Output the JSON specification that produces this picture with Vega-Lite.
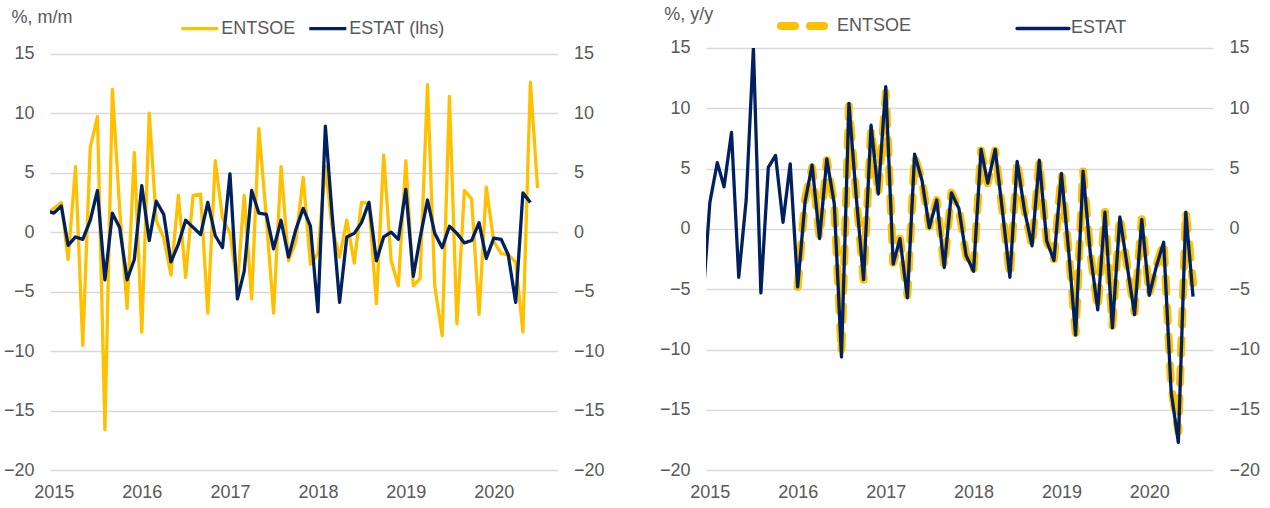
{
  "$schema": "https://vega.github.io/schema/vega-lite/v6.json",
  "padding": {"left": 3, "top": -4, "right": 5, "bottom": 5},
  "background": "white",
  "config": {
    "font": "Liberation Sans",
    "view": {"stroke": null},
    "axis": {"labelFontSize": 18, "labelColor": "#595959", "titleColor": "#595959", "titleFontSize": 18, "titleFontWeight": "normal", "gridColor": "#d9d9d9", "gridWidth": 1.3, "ticks": false, "domain": false, "labelFlush": false, "labelOverlap": false},
    "legend": {"labelFontSize": 18, "labelColor": "#595959", "padding": 0, "offset": 0}
  },
  "datasets": {
    "mm": [
      {"date": "2014-12-01", "series": "ENTSOE", "value": 1.5},
      {"date": "2015-01-01", "series": "ENTSOE", "value": 2.0},
      {"date": "2015-02-01", "series": "ENTSOE", "value": 2.5},
      {"date": "2015-03-01", "series": "ENTSOE", "value": -2.3},
      {"date": "2015-04-01", "series": "ENTSOE", "value": 5.5},
      {"date": "2015-05-01", "series": "ENTSOE", "value": -9.5},
      {"date": "2015-06-01", "series": "ENTSOE", "value": 7.1},
      {"date": "2015-07-01", "series": "ENTSOE", "value": 9.7},
      {"date": "2015-08-01", "series": "ENTSOE", "value": -16.6},
      {"date": "2015-09-01", "series": "ENTSOE", "value": 12.0},
      {"date": "2015-10-01", "series": "ENTSOE", "value": 2.0},
      {"date": "2015-11-01", "series": "ENTSOE", "value": -6.4},
      {"date": "2015-12-01", "series": "ENTSOE", "value": 6.7},
      {"date": "2016-01-01", "series": "ENTSOE", "value": -8.4},
      {"date": "2016-02-01", "series": "ENTSOE", "value": 10.0},
      {"date": "2016-03-01", "series": "ENTSOE", "value": 1.0},
      {"date": "2016-04-01", "series": "ENTSOE", "value": -0.5},
      {"date": "2016-05-01", "series": "ENTSOE", "value": -3.6},
      {"date": "2016-06-01", "series": "ENTSOE", "value": 3.1},
      {"date": "2016-07-01", "series": "ENTSOE", "value": -3.8},
      {"date": "2016-08-01", "series": "ENTSOE", "value": 3.1},
      {"date": "2016-09-01", "series": "ENTSOE", "value": 3.2},
      {"date": "2016-10-01", "series": "ENTSOE", "value": -6.8},
      {"date": "2016-11-01", "series": "ENTSOE", "value": 6.0},
      {"date": "2016-12-01", "series": "ENTSOE", "value": 1.2},
      {"date": "2017-01-01", "series": "ENTSOE", "value": -0.1},
      {"date": "2017-02-01", "series": "ENTSOE", "value": -4.5},
      {"date": "2017-03-01", "series": "ENTSOE", "value": 3.1},
      {"date": "2017-04-01", "series": "ENTSOE", "value": -5.6},
      {"date": "2017-05-01", "series": "ENTSOE", "value": 8.7},
      {"date": "2017-06-01", "series": "ENTSOE", "value": 1.2},
      {"date": "2017-07-01", "series": "ENTSOE", "value": -6.8},
      {"date": "2017-08-01", "series": "ENTSOE", "value": 5.5},
      {"date": "2017-09-01", "series": "ENTSOE", "value": -2.4},
      {"date": "2017-10-01", "series": "ENTSOE", "value": -0.8},
      {"date": "2017-11-01", "series": "ENTSOE", "value": 4.6},
      {"date": "2017-12-01", "series": "ENTSOE", "value": -2.7},
      {"date": "2018-01-01", "series": "ENTSOE", "value": -1.8},
      {"date": "2018-02-01", "series": "ENTSOE", "value": 5.5},
      {"date": "2018-03-01", "series": "ENTSOE", "value": 0.4},
      {"date": "2018-04-01", "series": "ENTSOE", "value": -2.1},
      {"date": "2018-05-01", "series": "ENTSOE", "value": 1.0},
      {"date": "2018-06-01", "series": "ENTSOE", "value": -2.6},
      {"date": "2018-07-01", "series": "ENTSOE", "value": 2.5},
      {"date": "2018-08-01", "series": "ENTSOE", "value": 2.4},
      {"date": "2018-09-01", "series": "ENTSOE", "value": -6.0},
      {"date": "2018-10-01", "series": "ENTSOE", "value": 6.5},
      {"date": "2018-11-01", "series": "ENTSOE", "value": -2.4},
      {"date": "2018-12-01", "series": "ENTSOE", "value": -4.5},
      {"date": "2019-01-01", "series": "ENTSOE", "value": 6.0},
      {"date": "2019-02-01", "series": "ENTSOE", "value": -4.5},
      {"date": "2019-03-01", "series": "ENTSOE", "value": -3.9},
      {"date": "2019-04-01", "series": "ENTSOE", "value": 12.4},
      {"date": "2019-05-01", "series": "ENTSOE", "value": -4.5},
      {"date": "2019-06-01", "series": "ENTSOE", "value": -8.7},
      {"date": "2019-07-01", "series": "ENTSOE", "value": 11.4},
      {"date": "2019-08-01", "series": "ENTSOE", "value": -7.7},
      {"date": "2019-09-01", "series": "ENTSOE", "value": 3.5},
      {"date": "2019-10-01", "series": "ENTSOE", "value": 2.8},
      {"date": "2019-11-01", "series": "ENTSOE", "value": -6.9},
      {"date": "2019-12-01", "series": "ENTSOE", "value": 3.8},
      {"date": "2020-01-01", "series": "ENTSOE", "value": -0.8},
      {"date": "2020-02-01", "series": "ENTSOE", "value": -1.8},
      {"date": "2020-03-01", "series": "ENTSOE", "value": -1.9},
      {"date": "2020-04-01", "series": "ENTSOE", "value": -2.5},
      {"date": "2020-05-01", "series": "ENTSOE", "value": -8.4},
      {"date": "2020-06-01", "series": "ENTSOE", "value": 12.6},
      {"date": "2020-07-01", "series": "ENTSOE", "value": 3.7},
      {"date": "2014-12-01", "series": "ESTAT (lhs)", "value": 1.8},
      {"date": "2015-01-01", "series": "ESTAT (lhs)", "value": 1.6},
      {"date": "2015-02-01", "series": "ESTAT (lhs)", "value": 2.2},
      {"date": "2015-03-01", "series": "ESTAT (lhs)", "value": -1.1},
      {"date": "2015-04-01", "series": "ESTAT (lhs)", "value": -0.4},
      {"date": "2015-05-01", "series": "ESTAT (lhs)", "value": -0.6},
      {"date": "2015-06-01", "series": "ESTAT (lhs)", "value": 1.0},
      {"date": "2015-07-01", "series": "ESTAT (lhs)", "value": 3.5},
      {"date": "2015-08-01", "series": "ESTAT (lhs)", "value": -4.0},
      {"date": "2015-09-01", "series": "ESTAT (lhs)", "value": 1.6},
      {"date": "2015-10-01", "series": "ESTAT (lhs)", "value": 0.4},
      {"date": "2015-11-01", "series": "ESTAT (lhs)", "value": -4.0},
      {"date": "2015-12-01", "series": "ESTAT (lhs)", "value": -2.3},
      {"date": "2016-01-01", "series": "ESTAT (lhs)", "value": 3.9},
      {"date": "2016-02-01", "series": "ESTAT (lhs)", "value": -0.7},
      {"date": "2016-03-01", "series": "ESTAT (lhs)", "value": 2.6},
      {"date": "2016-04-01", "series": "ESTAT (lhs)", "value": 1.5},
      {"date": "2016-05-01", "series": "ESTAT (lhs)", "value": -2.5},
      {"date": "2016-06-01", "series": "ESTAT (lhs)", "value": -1.0},
      {"date": "2016-07-01", "series": "ESTAT (lhs)", "value": 1.0},
      {"date": "2016-08-01", "series": "ESTAT (lhs)", "value": 0.4},
      {"date": "2016-09-01", "series": "ESTAT (lhs)", "value": -0.2},
      {"date": "2016-10-01", "series": "ESTAT (lhs)", "value": 2.5},
      {"date": "2016-11-01", "series": "ESTAT (lhs)", "value": -0.3},
      {"date": "2016-12-01", "series": "ESTAT (lhs)", "value": -1.3},
      {"date": "2017-01-01", "series": "ESTAT (lhs)", "value": 4.9},
      {"date": "2017-02-01", "series": "ESTAT (lhs)", "value": -5.6},
      {"date": "2017-03-01", "series": "ESTAT (lhs)", "value": -3.3},
      {"date": "2017-04-01", "series": "ESTAT (lhs)", "value": 3.5},
      {"date": "2017-05-01", "series": "ESTAT (lhs)", "value": 1.6},
      {"date": "2017-06-01", "series": "ESTAT (lhs)", "value": 1.5},
      {"date": "2017-07-01", "series": "ESTAT (lhs)", "value": -1.4},
      {"date": "2017-08-01", "series": "ESTAT (lhs)", "value": 1.0},
      {"date": "2017-09-01", "series": "ESTAT (lhs)", "value": -2.1},
      {"date": "2017-10-01", "series": "ESTAT (lhs)", "value": 0.2},
      {"date": "2017-11-01", "series": "ESTAT (lhs)", "value": 2.0},
      {"date": "2017-12-01", "series": "ESTAT (lhs)", "value": 0.5},
      {"date": "2018-01-01", "series": "ESTAT (lhs)", "value": -6.7},
      {"date": "2018-02-01", "series": "ESTAT (lhs)", "value": 8.9},
      {"date": "2018-03-01", "series": "ESTAT (lhs)", "value": 1.5},
      {"date": "2018-04-01", "series": "ESTAT (lhs)", "value": -5.9},
      {"date": "2018-05-01", "series": "ESTAT (lhs)", "value": -0.4},
      {"date": "2018-06-01", "series": "ESTAT (lhs)", "value": -0.1},
      {"date": "2018-07-01", "series": "ESTAT (lhs)", "value": 0.8},
      {"date": "2018-08-01", "series": "ESTAT (lhs)", "value": 2.5},
      {"date": "2018-09-01", "series": "ESTAT (lhs)", "value": -2.4},
      {"date": "2018-10-01", "series": "ESTAT (lhs)", "value": -0.4},
      {"date": "2018-11-01", "series": "ESTAT (lhs)", "value": 0.0},
      {"date": "2018-12-01", "series": "ESTAT (lhs)", "value": -0.6},
      {"date": "2019-01-01", "series": "ESTAT (lhs)", "value": 3.6},
      {"date": "2019-02-01", "series": "ESTAT (lhs)", "value": -3.7},
      {"date": "2019-03-01", "series": "ESTAT (lhs)", "value": -0.5},
      {"date": "2019-04-01", "series": "ESTAT (lhs)", "value": 2.7},
      {"date": "2019-05-01", "series": "ESTAT (lhs)", "value": -0.1},
      {"date": "2019-06-01", "series": "ESTAT (lhs)", "value": -1.3},
      {"date": "2019-07-01", "series": "ESTAT (lhs)", "value": 0.5},
      {"date": "2019-08-01", "series": "ESTAT (lhs)", "value": -0.1},
      {"date": "2019-09-01", "series": "ESTAT (lhs)", "value": -0.9},
      {"date": "2019-10-01", "series": "ESTAT (lhs)", "value": -0.7},
      {"date": "2019-11-01", "series": "ESTAT (lhs)", "value": 0.8},
      {"date": "2019-12-01", "series": "ESTAT (lhs)", "value": -2.2},
      {"date": "2020-01-01", "series": "ESTAT (lhs)", "value": -0.5},
      {"date": "2020-02-01", "series": "ESTAT (lhs)", "value": -0.6},
      {"date": "2020-03-01", "series": "ESTAT (lhs)", "value": -1.9},
      {"date": "2020-04-01", "series": "ESTAT (lhs)", "value": -5.9},
      {"date": "2020-05-01", "series": "ESTAT (lhs)", "value": 3.3},
      {"date": "2020-06-01", "series": "ESTAT (lhs)", "value": 2.5}
    ],
    "yy": [
      {"date": "2016-01-01", "series": "ENTSOE", "value": -4.8},
      {"date": "2016-02-01", "series": "ENTSOE", "value": 2.5},
      {"date": "2016-03-01", "series": "ENTSOE", "value": 5.1},
      {"date": "2016-04-01", "series": "ENTSOE", "value": -0.7},
      {"date": "2016-05-01", "series": "ENTSOE", "value": 5.7},
      {"date": "2016-06-01", "series": "ENTSOE", "value": 2.0},
      {"date": "2016-07-01", "series": "ENTSOE", "value": -10.2},
      {"date": "2016-08-01", "series": "ENTSOE", "value": 10.2},
      {"date": "2016-09-01", "series": "ENTSOE", "value": 2.6},
      {"date": "2016-10-01", "series": "ENTSOE", "value": -4.2},
      {"date": "2016-11-01", "series": "ENTSOE", "value": 8.3},
      {"date": "2016-12-01", "series": "ENTSOE", "value": 2.9},
      {"date": "2017-01-01", "series": "ENTSOE", "value": 11.3},
      {"date": "2017-02-01", "series": "ENTSOE", "value": -2.8},
      {"date": "2017-03-01", "series": "ENTSOE", "value": -0.8},
      {"date": "2017-04-01", "series": "ENTSOE", "value": -5.5},
      {"date": "2017-05-01", "series": "ENTSOE", "value": 6.0},
      {"date": "2017-06-01", "series": "ENTSOE", "value": 4.0},
      {"date": "2017-07-01", "series": "ENTSOE", "value": 0.2},
      {"date": "2017-08-01", "series": "ENTSOE", "value": 2.4},
      {"date": "2017-09-01", "series": "ENTSOE", "value": -3.1},
      {"date": "2017-10-01", "series": "ENTSOE", "value": 3.0},
      {"date": "2017-11-01", "series": "ENTSOE", "value": 1.7},
      {"date": "2017-12-01", "series": "ENTSOE", "value": -2.2},
      {"date": "2018-01-01", "series": "ENTSOE", "value": -3.4},
      {"date": "2018-02-01", "series": "ENTSOE", "value": 6.5},
      {"date": "2018-03-01", "series": "ENTSOE", "value": 3.8},
      {"date": "2018-04-01", "series": "ENTSOE", "value": 6.5},
      {"date": "2018-05-01", "series": "ENTSOE", "value": 1.5},
      {"date": "2018-06-01", "series": "ENTSOE", "value": -3.9},
      {"date": "2018-07-01", "series": "ENTSOE", "value": 5.6},
      {"date": "2018-08-01", "series": "ENTSOE", "value": 1.5},
      {"date": "2018-09-01", "series": "ENTSOE", "value": -1.4},
      {"date": "2018-10-01", "series": "ENTSOE", "value": 5.6},
      {"date": "2018-11-01", "series": "ENTSOE", "value": -1.0},
      {"date": "2018-12-01", "series": "ENTSOE", "value": -2.5},
      {"date": "2019-01-01", "series": "ENTSOE", "value": 4.5},
      {"date": "2019-02-01", "series": "ENTSOE", "value": -2.0},
      {"date": "2019-03-01", "series": "ENTSOE", "value": -8.6},
      {"date": "2019-04-01", "series": "ENTSOE", "value": 4.8},
      {"date": "2019-05-01", "series": "ENTSOE", "value": -2.0},
      {"date": "2019-06-01", "series": "ENTSOE", "value": -6.6},
      {"date": "2019-07-01", "series": "ENTSOE", "value": 1.4},
      {"date": "2019-08-01", "series": "ENTSOE", "value": -8.0},
      {"date": "2019-09-01", "series": "ENTSOE", "value": 1.0},
      {"date": "2019-10-01", "series": "ENTSOE", "value": -3.0},
      {"date": "2019-11-01", "series": "ENTSOE", "value": -6.9},
      {"date": "2019-12-01", "series": "ENTSOE", "value": 0.8},
      {"date": "2020-01-01", "series": "ENTSOE", "value": -5.4},
      {"date": "2020-02-01", "series": "ENTSOE", "value": -3.0},
      {"date": "2020-03-01", "series": "ENTSOE", "value": -1.1},
      {"date": "2020-04-01", "series": "ENTSOE", "value": -13.0},
      {"date": "2020-05-01", "series": "ENTSOE", "value": -16.8},
      {"date": "2020-06-01", "series": "ENTSOE", "value": 1.4},
      {"date": "2020-07-01", "series": "ENTSOE", "value": -4.5},
      {"date": "2014-12-01", "series": "ESTAT", "value": -6.5},
      {"date": "2015-01-01", "series": "ESTAT", "value": 2.2},
      {"date": "2015-02-01", "series": "ESTAT", "value": 5.5},
      {"date": "2015-03-01", "series": "ESTAT", "value": 3.5},
      {"date": "2015-04-01", "series": "ESTAT", "value": 8.0},
      {"date": "2015-05-01", "series": "ESTAT", "value": -4.0},
      {"date": "2015-06-01", "series": "ESTAT", "value": 2.4},
      {"date": "2015-07-01", "series": "ESTAT", "value": 15.0},
      {"date": "2015-08-01", "series": "ESTAT", "value": -5.3},
      {"date": "2015-09-01", "series": "ESTAT", "value": 5.1},
      {"date": "2015-10-01", "series": "ESTAT", "value": 6.1},
      {"date": "2015-11-01", "series": "ESTAT", "value": 0.55},
      {"date": "2015-12-01", "series": "ESTAT", "value": 5.4},
      {"date": "2016-01-01", "series": "ESTAT", "value": -4.8},
      {"date": "2016-02-01", "series": "ESTAT", "value": 2.3},
      {"date": "2016-03-01", "series": "ESTAT", "value": 5.3},
      {"date": "2016-04-01", "series": "ESTAT", "value": -0.8},
      {"date": "2016-05-01", "series": "ESTAT", "value": 5.8},
      {"date": "2016-06-01", "series": "ESTAT", "value": 2.1},
      {"date": "2016-07-01", "series": "ESTAT", "value": -10.6},
      {"date": "2016-08-01", "series": "ESTAT", "value": 10.4},
      {"date": "2016-09-01", "series": "ESTAT", "value": 2.5},
      {"date": "2016-10-01", "series": "ESTAT", "value": -4.2},
      {"date": "2016-11-01", "series": "ESTAT", "value": 8.6},
      {"date": "2016-12-01", "series": "ESTAT", "value": 2.9},
      {"date": "2017-01-01", "series": "ESTAT", "value": 11.8},
      {"date": "2017-02-01", "series": "ESTAT", "value": -2.9},
      {"date": "2017-03-01", "series": "ESTAT", "value": -0.8},
      {"date": "2017-04-01", "series": "ESTAT", "value": -5.7},
      {"date": "2017-05-01", "series": "ESTAT", "value": 6.2},
      {"date": "2017-06-01", "series": "ESTAT", "value": 4.0},
      {"date": "2017-07-01", "series": "ESTAT", "value": 0.1},
      {"date": "2017-08-01", "series": "ESTAT", "value": 2.4},
      {"date": "2017-09-01", "series": "ESTAT", "value": -3.2},
      {"date": "2017-10-01", "series": "ESTAT", "value": 3.0},
      {"date": "2017-11-01", "series": "ESTAT", "value": 1.7},
      {"date": "2017-12-01", "series": "ESTAT", "value": -2.2},
      {"date": "2018-01-01", "series": "ESTAT", "value": -3.5},
      {"date": "2018-02-01", "series": "ESTAT", "value": 6.6},
      {"date": "2018-03-01", "series": "ESTAT", "value": 3.8},
      {"date": "2018-04-01", "series": "ESTAT", "value": 6.6},
      {"date": "2018-05-01", "series": "ESTAT", "value": 1.5},
      {"date": "2018-06-01", "series": "ESTAT", "value": -4.0},
      {"date": "2018-07-01", "series": "ESTAT", "value": 5.6},
      {"date": "2018-08-01", "series": "ESTAT", "value": 1.5},
      {"date": "2018-09-01", "series": "ESTAT", "value": -1.4},
      {"date": "2018-10-01", "series": "ESTAT", "value": 5.7},
      {"date": "2018-11-01", "series": "ESTAT", "value": -1.0},
      {"date": "2018-12-01", "series": "ESTAT", "value": -2.6},
      {"date": "2019-01-01", "series": "ESTAT", "value": 4.6},
      {"date": "2019-02-01", "series": "ESTAT", "value": -2.0},
      {"date": "2019-03-01", "series": "ESTAT", "value": -8.8},
      {"date": "2019-04-01", "series": "ESTAT", "value": 4.8},
      {"date": "2019-05-01", "series": "ESTAT", "value": -2.0},
      {"date": "2019-06-01", "series": "ESTAT", "value": -6.7},
      {"date": "2019-07-01", "series": "ESTAT", "value": 1.4},
      {"date": "2019-08-01", "series": "ESTAT", "value": -8.2},
      {"date": "2019-09-01", "series": "ESTAT", "value": 1.0},
      {"date": "2019-10-01", "series": "ESTAT", "value": -3.0},
      {"date": "2019-11-01", "series": "ESTAT", "value": -7.1},
      {"date": "2019-12-01", "series": "ESTAT", "value": 0.8},
      {"date": "2020-01-01", "series": "ESTAT", "value": -5.5},
      {"date": "2020-02-01", "series": "ESTAT", "value": -3.0},
      {"date": "2020-03-01", "series": "ESTAT", "value": -1.1},
      {"date": "2020-04-01", "series": "ESTAT", "value": -13.5},
      {"date": "2020-05-01", "series": "ESTAT", "value": -17.7},
      {"date": "2020-06-01", "series": "ESTAT", "value": 1.4},
      {"date": "2020-07-01", "series": "ESTAT", "value": -5.6}
    ]
  },
  "hconcat": [
    {
      "width": 507.6,
      "height": 422.3,
      "data": {"name": "mm"},
      "layer": [
        {
          "transform": [{"filter": "datum.series === 'ENTSOE'"}],
          "mark": {"type": "line", "strokeWidth": 3.3, "strokeJoin": "round", "clip": true},
          "encoding": {
            "x": {"field": "date", "type": "temporal", "scale": {"type": "utc", "domain": [{"year": 2014, "month": 12, "date": 16, "utc": true}, {"year": 2020, "month": 9, "date": 22, "utc": true}]}, "axis": {"values": [{"year": 2015, "month": 1, "date": 1, "utc": true}, {"year": 2016, "month": 1, "date": 1, "utc": true}, {"year": 2017, "month": 1, "date": 1, "utc": true}, {"year": 2018, "month": 1, "date": 1, "utc": true}, {"year": 2019, "month": 1, "date": 1, "utc": true}, {"year": 2020, "month": 1, "date": 1, "utc": true}], "labelExpr": "utcFormat(datum.value, '%Y')", "grid": false, "title": null, "labelPadding": 13.5}},
            "y": {"field": "value", "type": "quantitative", "scale": {"domain": [-20, 15.47], "nice": false, "zero": false}, "axis": {"orient": "left", "values": [-20, -15, -10, -5, 0, 5, 10, 15], "grid": true, "labelPadding": 16, "title": "%, m/m", "titleAngle": 0, "titleAlign": "left", "titleBaseline": "alphabetic", "titleX": -39, "titleY": -25.7}},
            "color": {"field": "series", "type": "nominal", "scale": {"domain": ["ENTSOE", "ESTAT (lhs)"], "range": ["#FFC000", "#002060"]}, "legend": {"orient": "none", "legendX": 129.3, "legendY": -40.1, "direction": "horizontal", "title": null, "symbolType": "stroke", "symbolSize": 1369, "symbolStrokeWidth": 3.3, "columnPadding": 6, "labelOffset": 1}}
          }
        },
        {
          "transform": [{"filter": "datum.series === 'ESTAT (lhs)'"}],
          "mark": {"type": "line", "strokeWidth": 3.3, "strokeJoin": "round", "clip": true},
          "encoding": {
            "x": {"field": "date", "type": "temporal"},
            "y": {"field": "value", "type": "quantitative", "axis": {"orient": "right", "values": [-20, -15, -10, -5, 0, 5, 10, 15], "grid": false, "labelPadding": 16, "title": null}},
            "color": {"field": "series", "type": "nominal"}
          }
        }
      ],
      "resolve": {"axis": {"y": "independent"}}
    },
    {
      "width": 507,
      "height": 422.3,
      "data": {"name": "yy"},
      "layer": [
        {
          "transform": [{"filter": "datum.series === 'ENTSOE'"}],
          "mark": {"type": "line", "strokeJoin": "round", "strokeCap": "round", "clip": true},
          "encoding": {
            "x": {"field": "date", "type": "temporal", "scale": {"type": "utc", "domain": [{"year": 2014, "month": 12, "date": 16, "utc": true}, {"year": 2020, "month": 9, "date": 22, "utc": true}]}, "axis": {"values": [{"year": 2015, "month": 1, "date": 1, "utc": true}, {"year": 2016, "month": 1, "date": 1, "utc": true}, {"year": 2017, "month": 1, "date": 1, "utc": true}, {"year": 2018, "month": 1, "date": 1, "utc": true}, {"year": 2019, "month": 1, "date": 1, "utc": true}, {"year": 2020, "month": 1, "date": 1, "utc": true}], "labelExpr": "utcFormat(datum.value, '%Y')", "grid": false, "title": null, "labelPadding": 13.5}},
            "y": {"field": "value", "type": "quantitative", "scale": {"domain": [-20, 15], "nice": false, "zero": false}, "axis": {"orient": "left", "values": [-20, -15, -10, -5, 0, 5, 10, 15], "grid": true, "labelPadding": 16, "title": "%, y/y", "titleAngle": 0, "titleAlign": "left", "titleBaseline": "alphabetic", "titleX": -42.3, "titleY": -28.4}},
            "color": {"field": "series", "type": "nominal", "scale": {"domain": ["ENTSOE", "ESTAT"], "range": ["#FFC000", "#002060"]}, "legend": {"orient": "none", "legendX": 71, "legendY": -52, "direction": "horizontal", "title": null, "symbolType": "stroke", "symbolSize": 2704, "columnPadding": 98, "labelOffset": 0, "encode": {"symbols": {"update": {"strokeCap": {"value": "round"}}}}}},
            "strokeDash": {"field": "series", "type": "nominal", "scale": {"domain": ["ENTSOE", "ESTAT"], "range": [[14, 15], [1, 0]]}},
            "strokeWidth": {"field": "series", "type": "nominal", "scale": {"domain": ["ENTSOE", "ESTAT"], "range": [8, 3.3]}}
          }
        },
        {
          "transform": [{"filter": "datum.series === 'ESTAT'"}],
          "mark": {"type": "line", "strokeJoin": "round", "clip": true},
          "encoding": {
            "x": {"field": "date", "type": "temporal"},
            "y": {"field": "value", "type": "quantitative", "axis": {"orient": "right", "values": [-20, -15, -10, -5, 0, 5, 10, 15], "grid": false, "labelPadding": 16, "title": null}},
            "color": {"field": "series", "type": "nominal"},
            "strokeDash": {"field": "series", "type": "nominal"},
            "strokeWidth": {"field": "series", "type": "nominal"}
          }
        }
      ],
      "resolve": {"axis": {"y": "independent"}}
    }
  ],
  "spacing": 148,
  "bounds": "flush",
  "resolve": {"scale": {"color": "independent", "strokeDash": "independent", "strokeWidth": "independent"}, "legend": {"color": "independent", "strokeDash": "independent", "strokeWidth": "independent"}}
}
